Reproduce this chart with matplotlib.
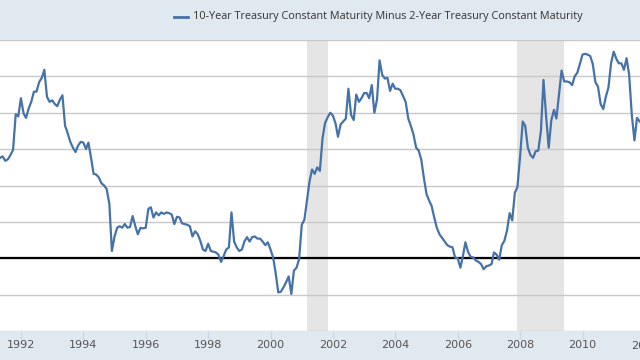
import matplotlib.pyplot as plt
import matplotlib.transforms as mtransforms
import pandas as pd

# 10-Year minus 2-Year Treasury spread, monthly, May 1991 onwards (percent)
spread = [
    1.38, 1.40, 1.34, 1.36, 1.42, 1.49, 1.98, 1.95,                          # 1991
    2.20, 1.99, 1.93, 2.06, 2.15, 2.29, 2.29, 2.42, 2.48, 2.59, 2.22, 2.15,  # 1992
    2.17, 2.12, 2.09, 2.18, 2.24, 1.82, 1.72, 1.60, 1.52, 1.46, 1.55, 1.60,  # 1993
    1.59, 1.50, 1.59, 1.38, 1.16, 1.15, 1.11, 1.03, 1.00, 0.95, 0.75, 0.10,  # 1994
    0.30, 0.42, 0.44, 0.42, 0.47, 0.42, 0.43, 0.58, 0.44, 0.33, 0.42, 0.41,  # 1995
    0.42, 0.68, 0.70, 0.56, 0.63, 0.59, 0.63, 0.61, 0.63, 0.62, 0.60, 0.47,  # 1996
    0.57, 0.56, 0.48, 0.47, 0.46, 0.44, 0.30, 0.37, 0.33, 0.24, 0.12, 0.10,  # 1997
    0.20, 0.10, 0.09, 0.08, 0.05, -0.05, 0.03, 0.12, 0.15, 0.63, 0.23, 0.15, # 1998
    0.10, 0.12, 0.23, 0.29, 0.23, 0.29, 0.30, 0.27, 0.27, 0.23, 0.18, 0.22,  # 1999
    0.12, 0.01, -0.20, -0.47, -0.46, -0.40, -0.33, -0.25, -0.49, -0.17, -0.13, -0.01,  # 2000
    0.46, 0.53, 0.78, 1.05, 1.22, 1.16, 1.25, 1.20, 1.65, 1.86, 1.94, 2.00,  # 2001
    1.96, 1.85, 1.67, 1.84, 1.88, 1.92, 2.33, 1.97, 1.90, 2.25, 2.15, 2.20,  # 2002
    2.27, 2.27, 2.20, 2.38, 2.00, 2.18, 2.72, 2.52, 2.47, 2.48, 2.30, 2.40,  # 2003
    2.33, 2.33, 2.31, 2.23, 2.15, 1.92, 1.82, 1.70, 1.52, 1.48, 1.35, 1.10,  # 2004
    0.88, 0.79, 0.72, 0.56, 0.42, 0.33, 0.28, 0.23, 0.18, 0.16, 0.15, 0.01,  # 2005
    0.00, -0.13, 0.02, 0.22, 0.09, 0.02, 0.01, -0.03, -0.05, -0.08, -0.15, -0.11,  # 2006
    -0.10, -0.08, 0.08, 0.05, -0.02, 0.18, 0.24, 0.38, 0.62, 0.52, 0.90, 0.98,  # 2007
    1.40, 1.88, 1.82, 1.52, 1.42, 1.38, 1.47, 1.48, 1.75, 2.45, 1.95, 1.52,  # 2008
    1.90, 2.04, 1.92, 2.25, 2.58, 2.43, 2.43, 2.42, 2.38, 2.50, 2.55, 2.67,  # 2009
    2.80, 2.81, 2.80, 2.78, 2.67, 2.42, 2.36, 2.12, 2.05, 2.22, 2.35, 2.68,  # 2010
    2.84, 2.74, 2.68, 2.68, 2.59, 2.75, 2.52, 1.97, 1.62, 1.93, 1.88, 1.85,  # 2011
]
dates = pd.date_range('1991-05-01', periods=len(spread), freq='MS')

recessions = [('2001-03-01', '2001-11-01'), ('2007-12-01', '2009-06-01')]
tick_years = list(range(1992, 2013, 2))
series_label = '10-Year Treasury Constant Maturity Minus 2-Year Treasury Constant Maturity'

band = '#e1e9f0'
line_color = '#4572a7'

fig = plt.figure(figsize=(6.4, 3.6), dpi=100, facecolor=band)
ax = fig.add_axes([0, 29 / 360, 1, 291 / 360])
ax.set_facecolor('white')

for start, end in recessions:
    ax.axvspan(pd.Timestamp(start), pd.Timestamp(end), color='#e5e5e5', lw=0, zorder=1)

ax.set_ylim(-1, 3)
ax.set_yticks([-1, -0.5, 0, 0.5, 1, 1.5, 2, 2.5, 3])
ax.yaxis.grid(True, color='#c8c8c8', linewidth=1.0, zorder=2)
ax.tick_params(axis='y', left=False, labelleft=False)

ax.axhline(0, color='black', linewidth=1.6, zorder=3)
ax.plot(dates, spread, color=line_color, linewidth=1.6, zorder=4)

ax.set_xlim(pd.Timestamp('1991-05-01'), pd.Timestamp('2011-11-05'))
ticks = [pd.Timestamp(f'{y}-01-01') for y in tick_years]
ax.set_xticks(ticks[:-1])
ax.set_xticklabels([str(y) for y in tick_years[:-1]])
ax.tick_params(axis='x', length=6, width=1, color='#ccd6eb', direction='out',
               labelsize=8, labelcolor='#555555', pad=0.5)
# the last label sits beyond the right edge and is cut off there
trans = mtransforms.blended_transform_factory(ax.transData, ax.transAxes)
ax.text(ticks[-1], -0.033, str(tick_years[-1]), transform=trans, ha='center', va='top',
        fontsize=8, color='#555555', clip_on=False)

for side in ['left', 'right', 'top', 'bottom']:
    ax.spines[side].set_visible(False)

# legend in the header band
fig.add_artist(plt.Line2D([174 / 640, 188 / 640], [1 - 17 / 360, 1 - 17 / 360],
                          color=line_color, linewidth=2))
fig.text(193 / 640, 1 - 17 / 360, series_label, ha='left', va='center',
         fontsize=7.8, color='#333333', family=['Open Sans', 'DejaVu Sans'])

fig.savefig('out.png', dpi=100, facecolor=band)
